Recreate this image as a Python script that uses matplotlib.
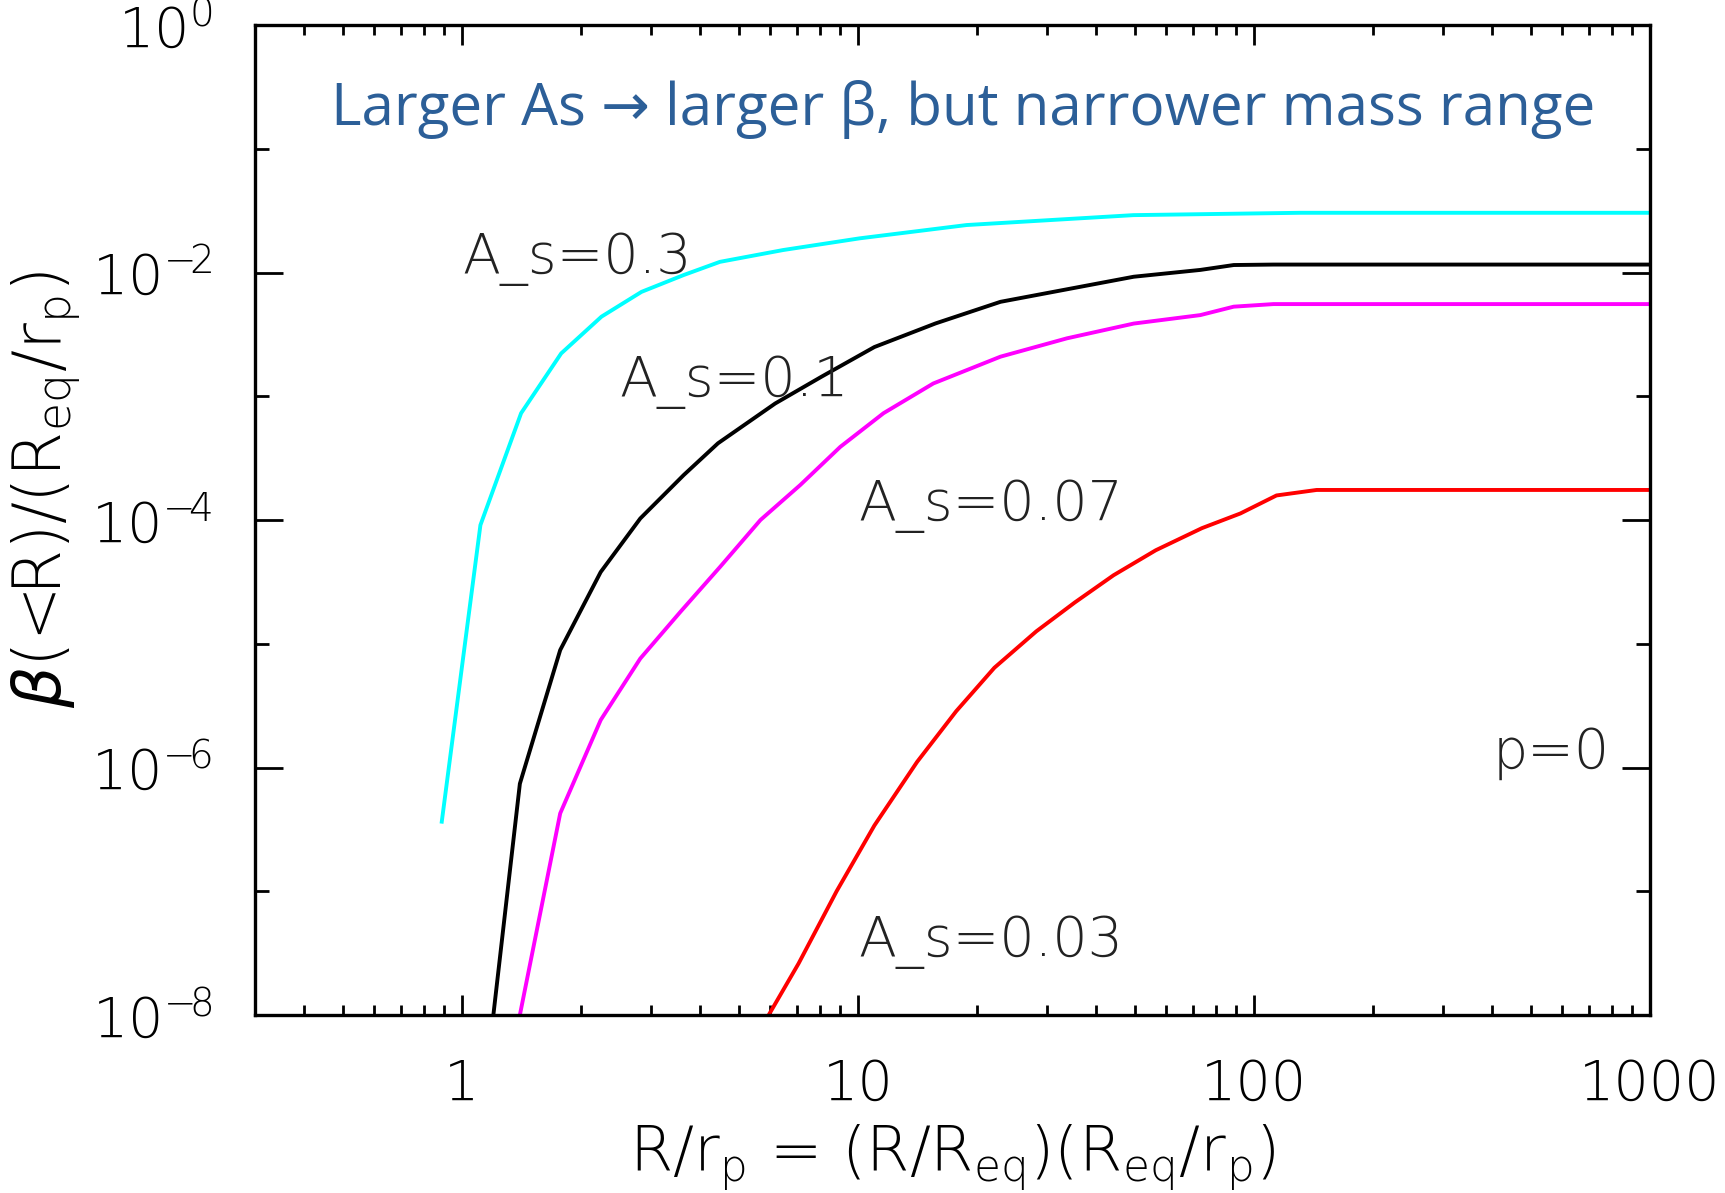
import matplotlib
matplotlib.use("Agg")
import numpy as np
import matplotlib.pyplot as plt
from matplotlib.ticker import FixedLocator, NullFormatter, LogLocator, FuncFormatter

# values (x = R/r_p, y = beta(<R)/(R_eq/r_p))
cyan_x = [0.889, 1.113, 1.41, 1.78, 2.25, 2.84, 3.63, 4.48, 6.47, 10.1, 18.8, 49.6, 131, 1000]
cyan_y = [3.65e-7, 9.1e-5, 7.3e-4, 2.22e-3, 4.4e-3, 6.98e-3, 9.55e-3, 1.22e-2, 1.52e-2,
          1.89e-2, 2.42e-2, 2.91e-2, 3.04e-2, 3.04e-2]

black_x = [1.2, 1.40, 1.77, 2.24, 2.82, 3.63, 4.43, 6.18, 8.09, 11.0, 15.7, 22.9, 49.7, 73.2,
           88.9, 112, 1000]
black_y = [1e-8, 7.4e-7, 8.9e-6, 3.8e-5, 1.03e-4, 2.31e-4, 4.17e-4, 8.75e-4, 1.44e-3, 2.5e-3,
           3.88e-3, 5.8e-3, 9.25e-3, 1.05e-2, 1.15e-2, 1.16e-2, 1.16e-2]

magenta_x = [1.40, 1.77, 2.24, 2.82, 3.56, 4.49, 5.67, 7.15, 9.02, 11.6, 15.5, 22.9, 33.7,
             49.7, 73.2, 88.9, 112, 1000]
magenta_y = [1e-8, 4.26e-7, 2.42e-6, 7.6e-6, 1.81e-5, 4.2e-5, 1.0e-4, 1.92e-4, 3.9e-4, 7.3e-4,
             1.27e-3, 2.09e-3, 2.94e-3, 3.87e-3, 4.53e-3, 5.3e-3, 5.56e-3, 5.56e-3]

red_x = [5.95, 7.08, 8.83, 11.0, 14.1, 17.7, 22.1, 28.2, 35.3, 44.2, 56.5, 73.9, 92.4, 114,
         144, 1000]
red_y = [1e-8, 2.61e-8, 1.0e-7, 3.4e-7, 1.11e-6, 2.85e-6, 6.4e-6, 1.26e-5, 2.16e-5, 3.58e-5,
         5.7e-5, 8.6e-5, 1.13e-4, 1.58e-4, 1.75e-4, 1.75e-4]

labels = ["A_s=0.3", "A_s=0.1", "A_s=0.07", "A_s=0.03", "p=0"]
label_x = [1.0, 2.5, 10.0, 10.0, 400.0]
label_y = [1e-2, 1e-3, 1e-4, 3e-8, 1e-6]

x_ticks = [1, 10, 100, 1000]
x_ticklabels = ["1", "10", "100", "1000"]
y_major = [1e-8, 1e-6, 1e-4, 1e-2, 1]
y_minor = [1e-7, 1e-5, 1e-3, 1e-1]

plt.rcParams['font.family'] = ['DejaVu Sans']
plt.rcParams['font.weight'] = 200
plt.rcParams['axes.labelweight'] = 200
plt.rcParams['mathtext.fontset'] = 'dejavusans'


def pow10(v, pos):
    n = int(round(np.log10(v)))
    if n < 0:
        return "$\\mathdefault{10^{-\\!%d}}$" % (-n)
    return "$\\mathdefault{10^{%d}}$" % n


fig = plt.figure(figsize=(17.25, 11.93), dpi=100)
ax = fig.add_axes([0.1478, 0.1492, 0.8087, 0.8298])

lw = 2.8
ax.plot(cyan_x, cyan_y, color='#00FFFF', lw=lw)
ax.plot(black_x, black_y, color='black', lw=lw)
ax.plot(magenta_x, magenta_y, color='#FF00FF', lw=lw)
ax.plot(red_x, red_y, color='#FF0000', lw=lw)

ax.set_xscale('log')
ax.set_yscale('log')
ax.set_xlim(0.3, 1000)
ax.set_ylim(1e-8, 1)

ax.set_xticks(x_ticks, labels=x_ticklabels)
ax.xaxis.set_minor_locator(LogLocator(base=10, subs=range(2, 10)))
ax.xaxis.set_minor_formatter(NullFormatter())
ax.yaxis.set_major_locator(FixedLocator(y_major))
ax.yaxis.set_major_formatter(FuncFormatter(pow10))
ax.yaxis.set_minor_locator(FixedLocator(y_minor))
ax.yaxis.set_minor_formatter(NullFormatter())

ax.tick_params(which='both', direction='in', top=True, right=True, width=2.0,
               labelsize=40, pad=31)
ax.tick_params(axis='y', which='major', length=20)
ax.tick_params(axis='y', which='minor', length=10)
ax.tick_params(axis='x', which='major', length=14.5)
ax.tick_params(axis='x', which='minor', length=7.2)
for s in ax.spines.values():
    s.set_linewidth(2.4)

for t, x, y in zip(labels, label_x, label_y):
    ax.text(x, y, t, fontsize=40, color='#222222', ha='left', va='baseline')

ax.text(0.5075, 0.899, "Larger As \u2192 larger \u03b2, but narrower mass range",
        transform=ax.transAxes, ha='center', va='baseline', fontsize=42,
        color='#2C5F98', family=['Open Sans', 'DejaVu Sans'], fontweight='normal')

ax.set_xlabel(r"R/r$_{\mathdefault{p}}$ = (R/R$_{\mathdefault{eq}}$)(R$_{\mathdefault{eq}}$/r$_{\mathdefault{p}}$)",
              fontsize=45, labelpad=8)
ax.set_ylabel(r"$\beta$(<R)/(R$_{\mathdefault{eq}}$/r$_{\mathdefault{p}}$)", fontsize=47)
ax.yaxis.set_label_coords(-0.124, 0.531)

fig.savefig("out.png", dpi=100)
